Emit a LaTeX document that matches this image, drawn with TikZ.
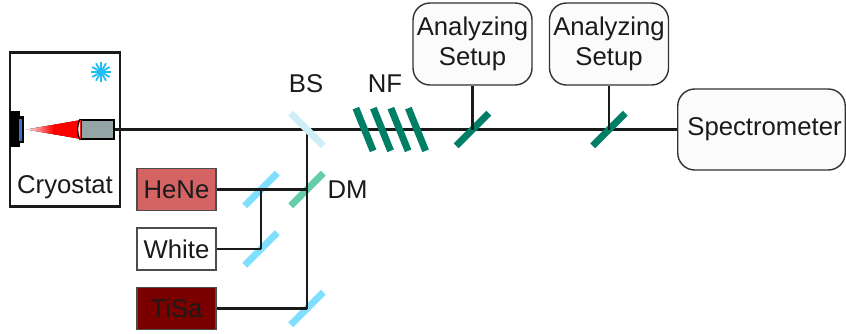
\documentclass[tikz,border=0pt]{standalone}
\usepackage{fontspec}
\setmainfont{Liberation Sans}
\definecolor{filtergreen}{HTML}{007F66}
\definecolor{dmgreen}{HTML}{66CDAA}
\definecolor{mirrorblue}{HTML}{80DFFF}
\definecolor{bsblue}{HTML}{CCEEF7}
\definecolor{henered}{HTML}{D46464}
\definecolor{tisared}{HTML}{7A0000}
\definecolor{objgray}{HTML}{95A5A6}
\definecolor{boxfill}{HTML}{FBFBFB}
\definecolor{flakeblue}{HTML}{1CBCF4}
\definecolor{sampleblue}{HTML}{3B6FC8}
\definecolor{ink}{HTML}{1A1A1A}
\begin{document}
\begin{tikzpicture}[x=1pt, y=-1pt, node distance={59.5pt},
		every node/.style = {font=\fontsize{25.7}{29}\selectfont, text=ink},
		beam/.style = {draw=ink, line width=2.5pt},
		laser/.style = {draw=black!70, line width=1.4pt, minimum width=79pt, minimum height=42pt, inner sep=0pt},
		setup/.style = {draw=black!80, line width=1.4pt, fill=boxfill, rounded corners=17pt, inner sep=0pt, align=center},
		optic/.style = {minimum width=46pt, minimum height=7pt, inner sep=0pt},
		mirror/.style = {optic, rotate=45},
		filter/.style = {optic, fill=filtergreen, rotate=-68}]
		\useasboundingbox (0,0) rectangle (846,333);
		\node[draw=ink, line width=2.5pt, minimum width=110pt, minimum height=154pt, inner sep=0pt] (cryo) at (65,129.5) {};
		\node (cryolabel) at (65,187) {Cryostat};
		\coordinate (flake) at (101,72);
		\foreach \a in {0,30,...,330}
			\draw[draw=flakeblue, line width=1.8pt] (flake) -- ++(\a:10);
		% sample on its holder
		\node[fill=black, minimum width=10pt, minimum height=36pt, inner sep=0pt] (holder) at (15,129) {};
		\node[fill=black, minimum width=5pt, minimum height=27pt, inner sep=0pt] (plate) at (21.5,129.5) {};
		\node[fill=sampleblue, minimum width=3pt, minimum height=22pt, inner sep=0pt] (sample) at (20.5,130) {};
		\node[draw=black, line width=1.8pt, fill=objgray, minimum width=33pt, minimum height=19pt, inner sep=0pt] (obj) at (97.5,129.5) {};
		\fill[left color=red!5, right color=red, middle color=red] (26,129.5) -- (81,120) -- (81,139) -- cycle;
		\draw[draw=black, line width=1.2pt, fill=red!10] (obj.south west) to [bend left=25] (obj.north west);
		\node[setup, minimum width=119pt, minimum height=82pt] (an1) at (472.5,44) {Analyzing\\[1pt]Setup};
		\node[setup, minimum width=119pt, minimum height=82pt] (an2) at (609,44) {Analyzing\\[1pt]Setup};
		\node[setup, minimum width=167.5pt, minimum height=81pt] (spec) at (761.5,129.5) {\hspace{6pt}Spectrometer};
		\node[laser, fill=henered] (hene) at (176.5,189.5) {HeNe};
		\node[laser, fill=white] (white) [below of=hene] {White};
		\node[laser, fill=tisared] (tisa) [below of=white] {TiSa};
		\node[mirror, fill=mirrorblue] (m1) at (261,189.5) {};
		\node[mirror, fill=mirrorblue] (m2) at (261,249) {};
		\node[mirror, fill=mirrorblue] (m3) at (307,308.5) {};
		\node[mirror, fill=dmgreen] (dm) at (307,189.5) {};
		\coordinate (split) at (307,129.5);
		\draw[beam] (obj) -- (spec);
		\draw[beam] (split) -- (m3.center);
		\draw[beam] (hene) -- (dm.center);
		\draw[beam] (white) -- (m2.center);
		\draw[beam] (tisa) -- (m3.center);
		\draw[beam] (m1.center) -- (m2.center);
		\node[optic, fill=bsblue, rotate=-45] (bs) at (split) {};
		\node[filter] (nf1) at (364.5,129.5) {};
		\node[filter] (nf2) at (382,129.5) {};
		\node[filter] (nf3) at (399.5,129.5) {};
		\node[filter] (nf4) at (417,129.5) {};
		\node[mirror, fill=filtergreen] (a1) at (472.5,129.5) {};
		\node[mirror, fill=filtergreen] (a2) at (609,129.5) {};
		\draw[beam] (an1) -- (a1.center);
		\draw[beam] (an2) -- (a2.center);
		\node (bslabel) at (306,84) {BS};
		\node (nflabel) at (385,84) {NF};
		\node (dmlabel) at (347.5,190) {DM};
	\end{tikzpicture}
\end{document}
